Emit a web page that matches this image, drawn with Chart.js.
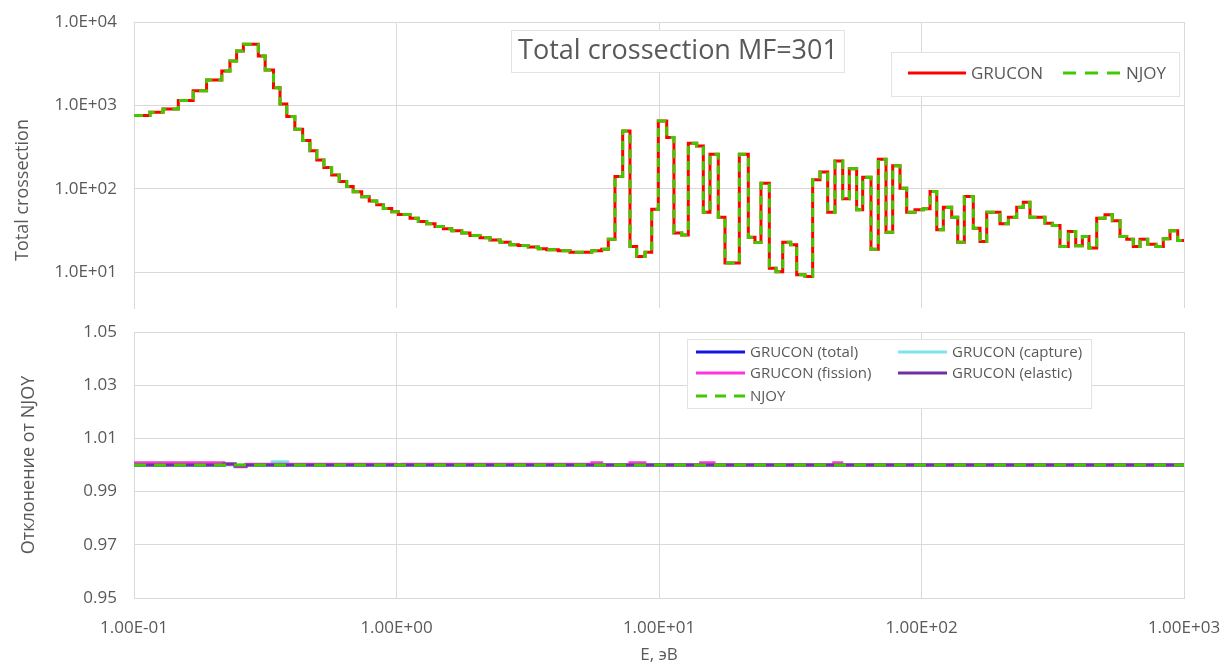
<!DOCTYPE html>
<html lang="ru">
<head>
<meta charset="UTF-8">
<title>Total crossection MF=301</title>
<script src="https://cdn.jsdelivr.net/npm/chart.js"></script>
<style>
    body {
        margin: 0;
        background: #ffffff;
    }

    .wrap {
        position: relative;
        width: 1227px;
        height: 666px;
    }

    canvas {
        position: absolute;
        left: 0;
    }

    #top { top: 0; }
    #bottom { top: 320px; }
</style>
</head>
<body>
<div class="wrap">
    <canvas id="top" width="1227" height="320"></canvas>
    <canvas id="bottom" width="1227" height="346"></canvas>
</div>

<script>
    // group boundaries, eV
    var groupEdges = [
        0.1, 0.115, 0.129, 0.1475, 0.168, 0.189, 0.216, 0.232, 0.246, 0.261,
        0.2975, 0.316, 0.340, 0.360, 0.382, 0.410, 0.439, 0.468, 0.497, 0.529,
        0.566, 0.605, 0.646, 0.684, 0.737, 0.787, 0.841, 0.891, 0.959, 1.016,
        1.126, 1.211, 1.303, 1.402, 1.508, 1.623, 1.772, 1.905, 2.080, 2.271,
        2.480, 2.706, 2.911, 3.177, 3.469, 3.735, 4.134, 4.581, 5.541, 6.049,
        6.410, 6.797, 7.272, 7.754, 8.222, 8.843, 9.380, 9.939, 10.70, 11.40,
        12.21, 12.93, 13.92, 14.75, 15.64, 16.82, 17.84, 20.23, 21.89, 23.21,
        24.46, 26.32, 27.91, 29.60, 31.75, 33.46, 35.99, 38.49, 41.05, 43.92,
        46.82, 50.10, 53.09, 56.62, 59.70, 64.21, 68.45, 73.24, 77.66, 82.80,
        87.81, 94.46, 101.6, 107.8, 114.3, 121.1, 130.3, 137.4, 145.6, 157.5,
        167.1, 177.2, 199.1, 214.2, 230.5, 244.2, 259.0, 295.4, 315.0, 337.0,
        362.4, 386.8, 410.0, 434.6, 465.0, 500.0, 533.3, 570.5, 604.9, 641.0,
        679.8, 727.2, 782.0, 833.9, 884.5, 946.2, 1000
    ];

    // total cross section per group (GRUCON)
    var grucon = [
        753, 826, 906, 1140, 1500, 2017, 2580, 3400, 4490, 5400,
        3910, 2655, 1630, 1040, 733, 516, 378, 286, 221, 179,
        146, 122, 106, 92, 80, 71, 64, 58, 53, 49,
        44.3, 40.4, 37.9, 35.2, 33.0, 31.2, 29.3, 27.4, 25.7, 24.3,
        22.8, 21.2, 20.8, 19.9, 19.0, 18.5, 18.0, 17.3, 18.0, 18.8,
        24.8, 140, 493, 20.2, 15.3, 17.3, 56.8, 650, 410, 29.3,
        27.9, 352, 326, 52.3, 259, 45.5, 12.8, 259, 26.2, 22.6,
        116, 11.1, 10.1, 22.8, 21.2, 9.25, 8.83, 128, 158, 52.3,
        215, 75.5, 173, 55.7, 137, 18.8, 226, 30.1, 189, 101,
        52.3, 55.7, 57.3, 92.2, 32.1, 60, 45.5, 22.8, 80.4, 33.6,
        23.2, 52.3, 37.9, 45.5, 60, 68.9, 45.5, 38.5, 36.1, 20.2,
        30.6, 20.6, 26.7, 19.4, 44.3, 48.5, 41.1, 26.7, 24.8, 20.2,
        24.8, 21.6, 20.2, 25.0, 31.2, 23.9
    ];
    // NJOY lies on top of GRUCON in the picture
    var njoy = grucon.slice();

    var xsTicks = [10, 100, 1000, 10000];
    var energyTicks = [0.1, 1, 10, 100, 1000];

    // ratio to NJOY, same energy axis
    var ratioE = [0.1, 0.22, 0.243, 0.267, 0.336, 0.385, 1.0, 1.05, 5.55, 6.05, 7.75, 8.84, 14.4, 16.2, 46.3, 49.7, 1000];
    var totalR = [1.0, 1.0003, 0.9996, 1.0, 1.0, 1.0, 1.0, 1.0, 1.0, 1.0, 1.0, 1.0, 1.0, 1.0, 1.0, 1.0, 1.0];
    var captureR = [1.0, 1.0, 1.0, 1.0, 1.0012, 1.0, 1.0, 1.0, 1.0, 1.0, 1.0, 1.0, 1.0, 1.0, 1.0, 1.0, 1.0];
    var fissionR = [1.0008, 1.0003, 0.9993, 1.0003, 1.0003, 1.0003, 1.0, 1.0003, 1.0008, 1.0, 1.0008, 1.0, 1.0008, 1.0, 1.0008, 1.0, 1.0];
    var elasticR = [1.0, 1.0004, 0.9996, 1.0, 1.0, 1.0, 1.0, 1.0, 1.0, 1.0, 1.0, 1.0, 1.0, 1.0, 1.0, 1.0, 1.0];
    var njoyR = [1.0, 1.0, 1.0, 1.0, 1.0, 1.0, 1.0, 1.0, 1.0, 1.0, 1.0, 1.0, 1.0, 1.0, 1.0, 1.0, 1.0];
    var ratioTicks = [0.95, 0.97, 0.99, 1.01, 1.03, 1.05];

    var FONT = "'Open Sans', sans-serif";
    var TXT = '#595959';
    var GRID = '#D9D9D9';

    // 1.0E+04 style labels
    function sci(v, d) {
        var p = v.toExponential(d).split('e');
        var e = parseInt(p[1], 10);
        return p[0] + 'E' + (e < 0 ? '-' : '+') + String(Math.abs(e)).padStart(2, '0');
    }

    // histogram: value of group i holds from edges[i] to edges[i+1]
    function histPoints(edges, vals) {
        var pts = vals.map(function (v, i) { return { x: edges[i], y: v }; });
        pts.push({ x: edges[edges.length - 1], y: vals[vals.length - 1] });
        return pts;
    }

    function stepPoints(xs, ys) {
        return xs.map(function (x, i) { return { x: x, y: ys[i] }; });
    }

    function setTicks(list) {
        return function (scale) {
            scale.ticks = list.map(function (v) { return { value: v }; });
        };
    }

    // fixed axis size, and no extra room for the end labels
    function fixSize(w, h) {
        return function (s) {
            if (w != null) s.width = w;
            if (h != null) s.height = h;
            s.paddingTop = 0;
            s.paddingBottom = 0;
            s.paddingLeft = 0;
            s.paddingRight = 0;
        };
    }

    var panelText = {
        id: 'panelText',
        afterDraw: function (chart, args, opts) {
            var ctx = chart.ctx;
            (opts.items || []).forEach(function (t) {
                ctx.save();
                if (t.box) {
                    ctx.fillStyle = '#ffffff';
                    ctx.fillRect(t.box[0], t.box[1], t.box[2], t.box[3]);
                    ctx.strokeStyle = '#E3E3E3';
                    ctx.lineWidth = 1;
                    ctx.strokeRect(t.box[0] + 0.5, t.box[1] + 0.5, t.box[2], t.box[3]);
                }
                ctx.font = t.font;
                ctx.fillStyle = TXT;
                ctx.textAlign = 'center';
                ctx.textBaseline = 'middle';
                ctx.translate(t.x, t.y);
                if (t.rotate) ctx.rotate(t.rotate);
                ctx.fillText(t.text, 0, 0);
                ctx.restore();
            });
        }
    };

    var boxLegend = {
        id: 'boxLegend',
        afterDraw: function (chart, args, opts) {
            var ctx = chart.ctx;
            var b = opts.box;
            ctx.save();
            ctx.fillStyle = '#ffffff';
            ctx.fillRect(b[0], b[1], b[2], b[3]);
            ctx.strokeStyle = '#E3E3E3';
            ctx.lineWidth = 1;
            ctx.strokeRect(b[0] + 0.5, b[1] + 0.5, b[2], b[3]);
            ctx.font = opts.font;
            ctx.textAlign = 'left';
            ctx.textBaseline = 'middle';
            opts.entries.forEach(function (en) {
                var ds = chart.data.datasets[en.index];
                ctx.strokeStyle = ds.borderColor;
                ctx.lineWidth = ds.borderWidth;
                ctx.setLineDash(ds.borderDash ? opts.dash : []);
                ctx.beginPath();
                ctx.moveTo(en.x, en.y);
                ctx.lineTo(en.x + opts.sample, en.y);
                ctx.stroke();
                ctx.setLineDash([]);
                ctx.fillStyle = TXT;
                ctx.fillText(ds.label, en.x + opts.sample + 5, en.y + 1);
            });
            ctx.restore();
        }
    };

    var topChart = new Chart(document.getElementById('top'), {
        type: 'line',
        data: {
            datasets: [{
                label: 'GRUCON',
                data: histPoints(groupEdges, grucon),
                borderColor: '#FF0000',
                borderWidth: 3,
                stepped: true,
                pointRadius: 0,
                order: 1
            }, {
                label: 'NJOY',
                data: histPoints(groupEdges, njoy),
                borderColor: '#44C800',
                borderWidth: 3,
                borderDash: [9, 6],
                stepped: true,
                pointRadius: 0,
                order: 0
            }]
        },
        options: {
            responsive: false,
            animation: false,
            layout: { autoPadding: false, padding: { top: 22, right: 43, bottom: 12, left: 0 } },
            plugins: {
                legend: { display: false },
                tooltip: { enabled: false },
                boxLegend: {
                    box: [891, 52, 288, 44],
                    font: '17px ' + FONT,
                    sample: 58,
                    dash: [13, 9],
                    entries: [{ index: 0, x: 908, y: 73 }, { index: 1, x: 1063, y: 73 }]
                },
                panelText: {
                    items: [
                        { text: 'Total crossection MF=301', x: 678, y: 51, font: '27px ' + FONT, box: [511, 30, 333, 42] },
                        { text: 'Total crossection', x: 23, y: 190, rotate: -Math.PI / 2, font: '18px ' + FONT }
                    ]
                }
            },
            scales: {
                x: {
                    type: 'logarithmic',
                    min: 0.1,
                    max: 1000,
                    afterBuildTicks: setTicks(energyTicks),
                    afterFit: fixSize(null, 0),
                    ticks: { display: false },
                    grid: { color: GRID, drawTicks: false },
                    border: { display: false }
                },
                y: {
                    type: 'logarithmic',
                    min: 3.7,
                    max: 10000,
                    afterBuildTicks: setTicks(xsTicks),
                    afterFit: fixSize(134, null),
                    ticks: {
                        padding: 17,
                        color: TXT,
                        font: { family: FONT, size: 17 },
                        callback: function (v) { return sci(v, 1); }
                    },
                    grid: { color: GRID, drawTicks: false },
                    border: { color: GRID }
                }
            }
        },
        plugins: [boxLegend, panelText]
    });

    var bottomChart = new Chart(document.getElementById('bottom'), {
        type: 'line',
        data: {
            datasets: [{
                label: 'GRUCON (total)',
                data: stepPoints(ratioE, totalR),
                borderColor: '#1414E6',
                borderWidth: 3,
                stepped: true,
                pointRadius: 0,
                order: 4
            }, {
                label: 'GRUCON (capture)',
                data: stepPoints(ratioE, captureR),
                borderColor: '#7DE3EE',
                borderWidth: 3,
                stepped: true,
                pointRadius: 0,
                order: 3
            }, {
                label: 'GRUCON (fission)',
                data: stepPoints(ratioE, fissionR),
                borderColor: '#FF33E0',
                borderWidth: 3,
                stepped: true,
                pointRadius: 0,
                order: 2
            }, {
                label: 'GRUCON (elastic)',
                data: stepPoints(ratioE, elasticR),
                borderColor: '#7030A0',
                borderWidth: 3,
                stepped: true,
                pointRadius: 0,
                order: 1
            }, {
                label: 'NJOY',
                data: stepPoints(ratioE, njoyR),
                borderColor: '#44C800',
                borderWidth: 3,
                borderDash: [12, 8],
                stepped: true,
                pointRadius: 0,
                order: 0
            }]
        },
        options: {
            responsive: false,
            animation: false,
            layout: { autoPadding: false, padding: { top: 12, right: 43, bottom: 0, left: 0 } },
            plugins: {
                legend: { display: false },
                tooltip: { enabled: false },
                boxLegend: {
                    box: [687, 19, 404, 69],
                    font: '15px ' + FONT,
                    sample: 49,
                    dash: [11, 8],
                    entries: [
                        { index: 0, x: 696, y: 32 },
                        { index: 1, x: 898, y: 32 },
                        { index: 2, x: 696, y: 53 },
                        { index: 3, x: 898, y: 53 },
                        { index: 4, x: 696, y: 76 }
                    ]
                },
                panelText: {
                    items: [
                        { text: 'Отклонение от NJOY', x: 29, y: 145, rotate: -Math.PI / 2, font: '18px ' + FONT },
                        { text: 'E, эВ', x: 659, y: 335, font: '17px ' + FONT }
                    ]
                }
            },
            scales: {
                x: {
                    type: 'logarithmic',
                    min: 0.1,
                    max: 1000,
                    afterBuildTicks: setTicks(energyTicks),
                    afterFit: fixSize(null, 68),
                    ticks: {
                        padding: 20,
                        color: TXT,
                        maxRotation: 0,
                        autoSkip: false,
                        font: { family: FONT, size: 17 },
                        callback: function (v) { return sci(v, 2); }
                    },
                    grid: { color: GRID, drawTicks: false },
                    border: { color: GRID }
                },
                y: {
                    min: 0.95,
                    max: 1.05,
                    afterBuildTicks: setTicks(ratioTicks),
                    afterFit: fixSize(134, null),
                    ticks: {
                        padding: 17,
                        color: TXT,
                        font: { family: FONT, size: 17 },
                        callback: function (v) { return v.toFixed(2); }
                    },
                    grid: { color: GRID, drawTicks: false },
                    border: { color: GRID }
                }
            }
        },
        plugins: [boxLegend, panelText]
    });
</script>
</body>
</html>
